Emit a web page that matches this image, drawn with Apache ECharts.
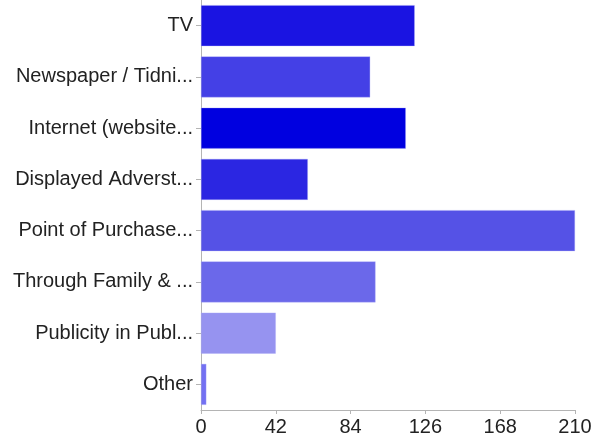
<!DOCTYPE html>
<html>
<head>
<meta charset="utf-8">
<script src="https://cdn.jsdelivr.net/npm/echarts@6/dist/echarts.min.js"></script>
<style>
  html, body { margin: 0; padding: 0; background: #fff; }
  #chart { width: 592px; height: 437px; }
</style>
</head>
<body>
<div id="chart"></div>
<script>
// Where respondents heard about the product (labels shortened as shown)
const categories = [
  'TV',
  'Newspaper / Tidni...',
  'Internet (website...',
  'Displayed Adverst...',
  'Point of Purchase...',
  'Through Family & ...',
  'Publicity in Publ...',
  'Other'
];
const counts = [120, 95, 115, 60, 210, 98, 42, 3];
const barColors = ['#1a14e2', '#4440e6', '#0000e0', '#2b26e2', '#5552e6', '#6b68ea', '#9693f0', '#7370f2'];
const xTicks = { min: 0, max: 210, interval: 42 };

const chart = echarts.init(document.getElementById('chart'), null, { renderer: 'canvas' });

const labelFont = {
  color: '#222',
  fontFamily: 'Liberation Sans, Arial, sans-serif',
  fontSize: 20
};

chart.setOption({
  animation: false,
  backgroundColor: '#ffffff',
  grid: {
    left: 201, right: 17, top: 0, bottom: 27,
    containLabel: false,
    outerBoundsMode: 'none'
  },
  xAxis: {
    type: 'value',
    min: xTicks.min,
    max: xTicks.max,
    interval: xTicks.interval,
    splitLine: { show: false },
    axisLine: { show: true, lineStyle: { color: '#b4b4b4', width: 1 } },
    axisTick: { show: true, length: 4, lineStyle: { color: '#b4b4b4' } },
    axisLabel: Object.assign({ margin: 7 }, labelFont)
  },
  yAxis: {
    type: 'category',
    data: categories,
    inverse: true,
    axisLine: { show: true, lineStyle: { color: '#b4b4b4', width: 1 } },
    axisTick: { show: true, alignWithLabel: true, length: 5, lineStyle: { color: '#b4b4b4' } },
    axisLabel: Object.assign({ margin: 8, padding: [3, 0, 0, 0] }, labelFont)
  },
  series: [{
    type: 'bar',
    data: counts.map((v, i) => ({ value: v, itemStyle: { color: barColors[i] } })),
    barCategoryGap: '20%',
    itemStyle: { borderColor: 'rgba(170,168,250,0.7)', borderWidth: 0.5 }
  }]
});
</script>
</body>
</html>
